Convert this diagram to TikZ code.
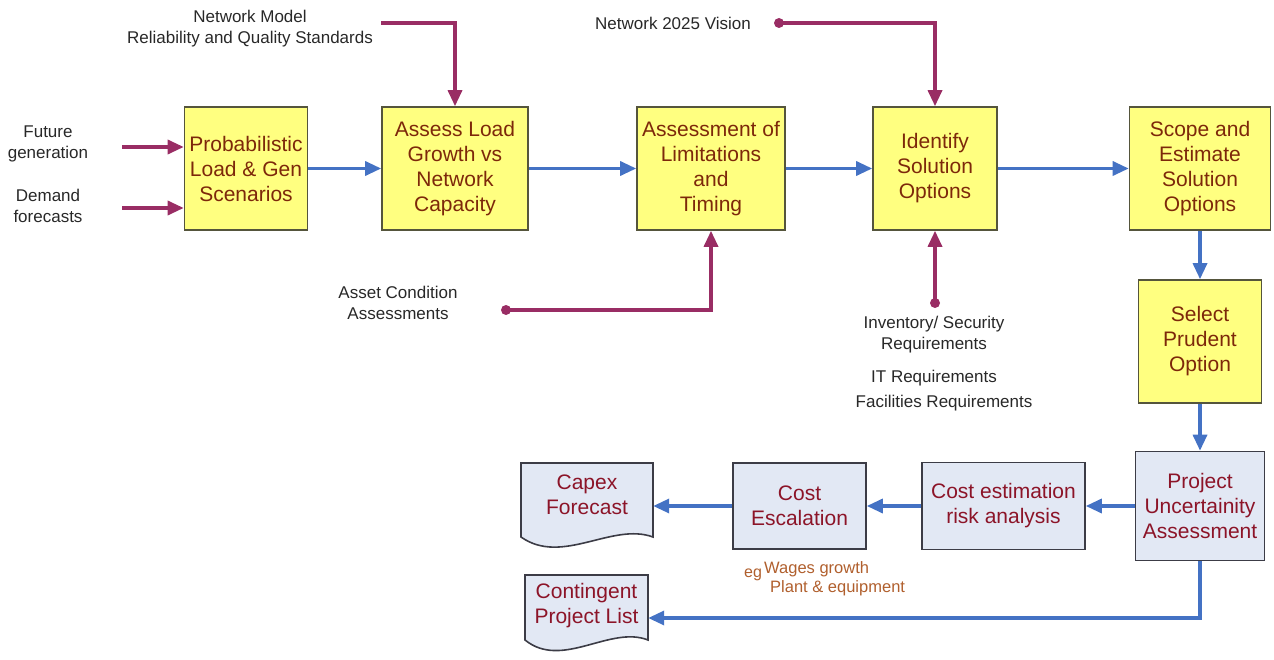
\documentclass[tikz,border=0pt]{standalone}
\usepackage{fontspec}
\setmainfont{Liberation Sans}
\usetikzlibrary{arrows.meta}

\definecolor{yFill}{RGB}{255,255,128}
\definecolor{yBorder}{RGB}{85,85,60}
\definecolor{yText}{RGB}{125,40,10}
\definecolor{bFill}{RGB}{226,232,244}
\definecolor{bBorder}{RGB}{60,60,70}
\definecolor{bText}{RGB}{140,20,40}
\definecolor{flowBlue}{RGB}{68,114,196}
\definecolor{inMag}{RGB}{153,45,100}
\definecolor{lblText}{RGB}{40,40,40}
\definecolor{egText}{RGB}{176,95,45}

\begin{document}
\begin{tikzpicture}[x=1pt,y=-1pt,
  yellowbox/.style={draw=yBorder, fill=yFill, line width=1.6pt, text=yText,
    font=\fontsize{21}{25}\selectfont, align=center, inner sep=0pt,
    minimum height=123pt},
  bluebox/.style={draw=bBorder, fill=bFill, line width=1.6pt, text=bText,
    font=\fontsize{21}{25}\selectfont, align=center, inner sep=0pt},
  docbox/.style={text=bText, font=\fontsize{21}{25}\selectfont, align=center,
    inner sep=0pt},
  docshape/.style={draw=bBorder, fill=bFill, line width=1.6pt},
  flowarrow/.style={draw=flowBlue, line width=3.3pt,
    -{Triangle[length=16pt,width=14pt]}},
  inarrow/.style={draw=inMag, line width=3.3pt,
    -{Triangle[length=16pt,width=14pt]}},
  lbl/.style={text=lblText, font=\fontsize{17}{21}\selectfont, align=center,
    inner sep=0pt},
  eglbl/.style={text=egText, inner sep=0pt}
]
\useasboundingbox (0,0) rectangle (1274,660);

% main process chain
\node[yellowbox, minimum width=123pt] (box1) at (246,168.5) {Probabilistic\\Load \& Gen\\Scenarios};
\node[yellowbox, minimum width=146pt] (box2) at (455,168.5) {Assess Load\\Growth vs\\Network\\Capacity};
\node[yellowbox, minimum width=148pt] (box3) at (711,168.5) {Assessment of\\Limitations\\and\\Timing};
\node[yellowbox, minimum width=124pt] (box4) at (935,168.5) {Identify\\Solution\\Options};
\node[yellowbox, minimum width=141pt] (box5) at (1200,168.5) {Scope and\\Estimate\\Solution\\Options};
\node[yellowbox, minimum width=123pt] (box6) at (1200,341.5) {Select\\Prudent\\Option};

\node[bluebox, minimum width=129pt, minimum height=109pt] (box7) at (1200,506) {Project\\Uncertainity\\Assessment};
\node[bluebox, minimum width=163pt, minimum height=87pt] (box8) at (1003.5,506) {Cost estimation\\risk analysis};
\node[bluebox, minimum width=133pt, minimum height=86pt] (box9) at (799.5,506) {Cost\\Escalation};

% document shapes
\draw[docshape] (521,537) -- (521,463) -- (653,463) -- (653,537)
  .. controls (612,522) and (562,566) .. (521,537) -- cycle;
\node[docbox, minimum width=132pt, minimum height=64pt] (capex) at (587,495) {Capex\\Forecast};

\draw[docshape] (525,640) -- (525,575) -- (648,575) -- (648,640)
  .. controls (610,625) and (562,670) .. (525,640) -- cycle;
\node[docbox, minimum width=123pt, minimum height=62pt] (contingent) at (586.5,606) {Contingent\\Project List};

% flow connectors
\draw[flowarrow] (box1.east) -- (box2.west);
\draw[flowarrow] (box2.east) -- (box3.west);
\draw[flowarrow] (box3.east) -- (box4.west);
\draw[flowarrow] (box4.east) -- (box5.west);
\draw[flowarrow] (box5.south) -- (box6.north);
\draw[flowarrow] (box6.south) -- (box7.north);
\draw[flowarrow] (box7.west) -- (box8.east);
\draw[flowarrow] (box8.west) -- (box9.east);
\draw[flowarrow] (box9.west) -- (box9.west -| capex.east);
\coordinate (lowrow) at (0,618);
\draw[flowarrow] (box7.south) |- (contingent.east |- lowrow);

% inputs
\node[lbl] (fgtext) at (48,144) {Future\\generation};
\node[lbl] (dftext) at (48,206) {Demand\\forecasts};
\coordinate (fg) at (122,147);
\coordinate (df) at (122,208);
\draw[inarrow] (fg) -- (fg -| box1.west);
\draw[inarrow] (df) -- (df -| box1.west);

\node[lbl] (nmtext) at (250,29) {Network Model\\Reliability and Quality Standards};
\coordinate (nm) at (381,23);
\draw[inarrow] (nm) -| (box2.north);

\node[lbl] (nvtext) at (673,23) {Network 2025 Vision};
\coordinate (nv) at (779,23);
\draw[inarrow] (nv) -| (box4.north);
\fill[inMag] (nv) circle (5pt);

\node[lbl] (actext) at (398,303) {Asset Condition\\Assessments};
\coordinate (ac) at (506,310);
\draw[inarrow] (ac) -| (box3.south);
\fill[inMag] (ac) circle (5pt);

\coordinate (inv) at (935,303);
\draw[inarrow] (inv) -- (box4.south);
\fill[inMag] (inv) circle (5pt);
\node[lbl] (invtext) at (934,335) {Inventory/ Security\\Requirements};
\node[lbl] (ittext) at (934,378) {IT Requirements};
\node[lbl] (factext) at (944,403) {Facilities Requirements};

% escalation notes
\node[eglbl, font=\fontsize{16}{18}\selectfont, anchor=base west] (eg) at (744,577) {eg};
\node[eglbl, font=\fontsize{16.5}{19}\selectfont, align=left, anchor=base west] (egitems) at (764,592) {Wages growth\\\hspace*{6pt}Plant \& equipment};
\end{tikzpicture}
\end{document}
